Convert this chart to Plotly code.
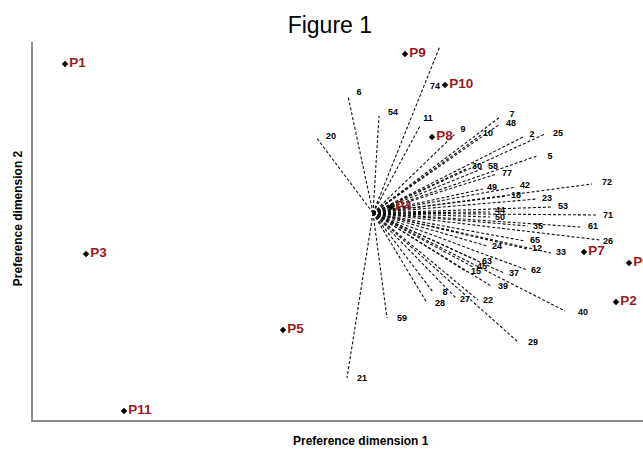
import plotly.graph_objects as go

# Products (preference map positions)
prod_names = ["P1", "P2", "P3", "P4", "P5", "P6", "P7", "P8", "P9", "P10", "P11"]
prod_x = [-3.08, 2.43, -2.87, 0.18, -0.90, 2.56, 2.11, 0.59, 0.32, 0.72, -2.49]
prod_y = [1.49, -0.89, -0.41, 0.06, -1.17, -0.50, -0.39, 0.76, 1.59, 1.28, -1.98]

# Consumer preference vectors (end points) and their label positions
cons_names = ["20", "6", "54", "11", "74", "9", "10", "7", "48", "2", "25", "5",
              "30", "58", "77", "49", "42", "18", "72", "23", "53", "71", "44", "50",
              "35", "61", "26", "24", "65", "12", "33", "63", "45", "15", "37", "62",
              "39", "40", "29", "22", "27", "8", "28", "59", "21"]
vec_x = [-0.57, -0.25, 0.06, 0.47, 0.67, 0.82, 1.08, 1.27, 1.27, 1.50, 1.72, 1.64,
         0.95, 1.11, 1.24, 1.10, 1.43, 1.34, 2.19, 1.64, 1.80, 2.23, 1.17, 1.17,
         1.55, 2.07, 2.27, 1.14, 1.52, 1.54, 1.78, 1.05, 1.00, 0.94, 1.31, 1.54,
         1.18, 1.92, 1.45, 1.05, 0.83, 0.60, 0.54, 0.14, -0.26]
vec_y = [0.76, 1.17, 0.97, 0.87, 1.67, 0.79, 0.78, 0.96, 0.89, 0.76, 0.79, 0.57,
         0.45, 0.45, 0.39, 0.24, 0.26, 0.17, 0.29, 0.14, 0.06, -0.02, 0.01, -0.04,
         -0.13, -0.14, -0.27, -0.33, -0.28, -0.36, -0.40, -0.48, -0.54, -0.59, -0.60, -0.57,
         -0.73, -0.98, -1.29, -0.87, -0.85, -0.79, -0.90, -1.05, -1.65]
lab_x = [-0.42, -0.14, 0.20, 0.55, 0.62, 0.90, 1.15, 1.39, 1.38, 1.59, 1.85, 1.77,
         1.04, 1.20, 1.34, 1.19, 1.52, 1.43, 2.34, 1.74, 1.90, 2.35, 1.27, 1.27,
         1.65, 2.20, 2.35, 1.24, 1.62, 1.64, 1.88, 1.14, 1.09, 1.03, 1.41, 1.63,
         1.30, 2.10, 1.60, 1.15, 0.92, 0.72, 0.67, 0.29, -0.11]
lab_y = [0.76, 1.20, 1.00, 0.94, 1.26, 0.83, 0.79, 0.98, 0.89, 0.78, 0.79, 0.56,
         0.46, 0.46, 0.39, 0.25, 0.27, 0.17, 0.30, 0.14, 0.06, -0.03, 0.02, -0.05,
         -0.14, -0.14, -0.29, -0.34, -0.28, -0.36, -0.40, -0.49, -0.54, -0.59, -0.61, -0.58,
         -0.74, -1.00, -1.30, -0.88, -0.87, -0.80, -0.91, -1.06, -1.66]

fig = go.Figure()

for ex, ey in zip(vec_x, vec_y):
    fig.add_trace(go.Scatter(
        x=[0, ex], y=[0, ey], mode="lines",
        line=dict(color="#111111", width=1.1, dash="3px,2px"),
        hoverinfo="skip", showlegend=False))

fig.add_trace(go.Scatter(
    x=lab_x, y=lab_y, mode="text", text=cons_names,
    textposition="middle center",
    textfont=dict(family="Liberation Sans", size=9, color="black", weight="bold"),
    showlegend=False, cliponaxis=False))

fig.add_trace(go.Scatter(
    x=prod_x, y=prod_y, mode="markers+text", text=prod_names,
    textposition="middle right",
    marker=dict(symbol="diamond", size=5, color="black"),
    textfont=dict(family="Liberation Sans", size=13.5, color="#9a1a1f", weight="bold"),
    showlegend=False, cliponaxis=False))

fig.update_layout(
    width=643, height=450,
    margin=dict(l=33, r=0, t=42, b=30, pad=0),
    paper_bgcolor="white", plot_bgcolor="white",
    xaxis=dict(range=[-3.4, 2.7], showline=True, linecolor="#8a8a8a", linewidth=1.5,
               showgrid=False, zeroline=False, showticklabels=False, ticks=""),
    yaxis=dict(range=[-2.07, 1.71], showline=True, linecolor="#8a8a8a", linewidth=1.5,
               showgrid=False, zeroline=False, showticklabels=False, ticks=""),
    title=dict(text="Figure 1", x=0.513, xanchor="center", y=0.944, yanchor="middle",
               font=dict(family="Liberation Sans", size=23, color="black")),
    annotations=[
        dict(text="Preference dimension 1", xref="paper", yref="paper",
             x=0.538, y=-0.056, xanchor="center", yanchor="middle", showarrow=False,
             font=dict(family="Liberation Sans", size=12, color="black", weight="bold")),
        dict(text="Preference dimension 2", xref="paper", yref="paper",
             x=-0.0246, y=0.534, xanchor="center", yanchor="middle", showarrow=False,
             textangle=-90,
             font=dict(family="Liberation Sans", size=12, color="black", weight="bold")),
    ],
)

# remove the default page margin so the 643x450 figure fills the window exactly
fig.write_html("out.html", config={"displayModeBar": False},
               post_script="document.body.style.margin='0px';")
